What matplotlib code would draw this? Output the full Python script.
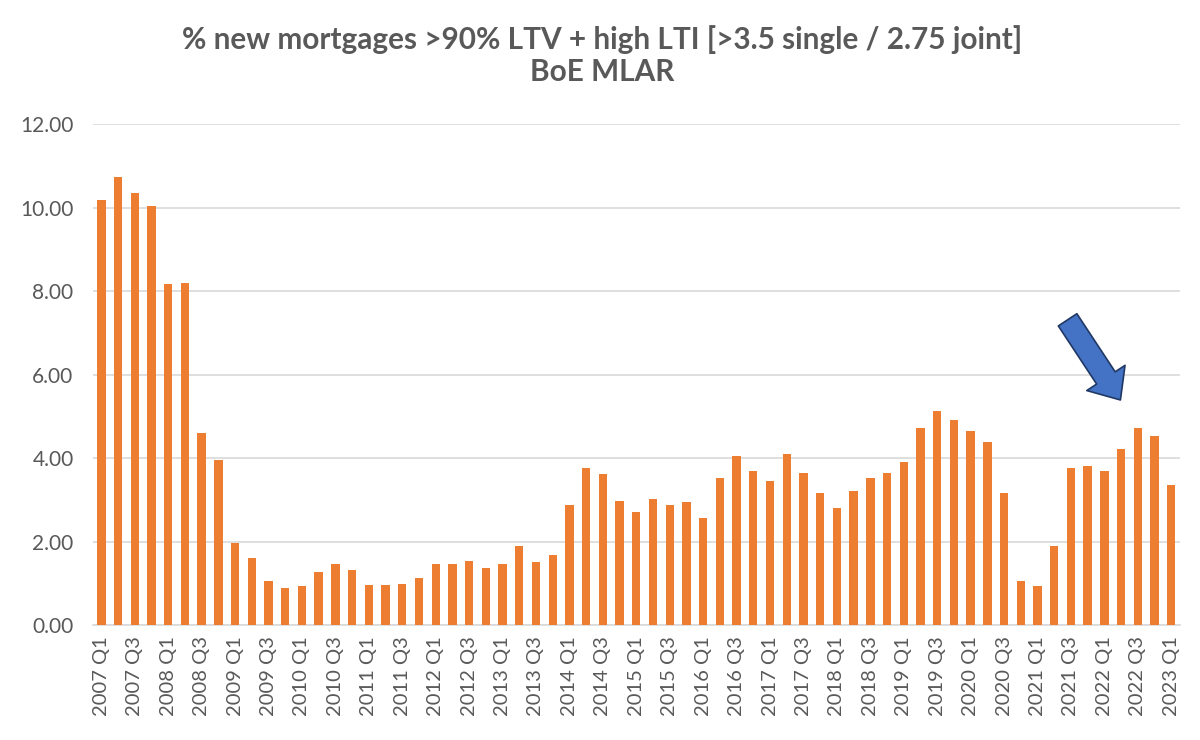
#!/usr/bin/env python3

import matplotlib
matplotlib.use('Agg')
import matplotlib.pyplot as plt
import numpy as np

# quarters 2007 Q1 .. 2023 Q1
years = list(range(2007, 2024))
quarters = [f'{y} Q{q}' for y in years for q in (1, 2, 3, 4)][:65]

values = [10.19, 10.73, 10.34, 10.04, 8.16, 8.19, 4.60, 3.96,
          1.97, 1.61, 1.06, 0.89, 0.93, 1.28, 1.46, 1.32,
          0.96, 0.96, 0.98, 1.13, 1.46, 1.45, 1.53, 1.37,
          1.45, 1.89, 1.52, 1.67, 2.87, 3.75, 3.62, 2.97,
          2.71, 3.03, 2.88, 2.94, 2.57, 3.53, 4.04, 3.68,
          3.45, 4.10, 3.65, 3.15, 2.81, 3.21, 3.51, 3.63,
          3.91, 4.73, 5.13, 4.92, 4.64, 4.38, 3.15, 1.06,
          0.93, 1.89, 3.75, 3.81, 3.70, 4.21, 4.73, 4.53,
          3.36]

yticks = [0, 2, 4, 6, 8, 10, 12]

plt.rcParams['font.family'] = ['Lato', 'DejaVu Sans']
grey = '#595959'

fig = plt.figure(figsize=(12, 7.4), dpi=100)
ax = fig.add_axes([0.0775, 0.1554, 0.9055, 0.677])

x = np.arange(len(values))
ax.bar(x, values, width=0.5, color='#ED7D31', zorder=3)

ax.set_xlim(-0.5, len(values) - 0.5)
ax.set_ylim(0, 12)
ax.set_yticks(yticks)
ax.set_yticklabels([f'{v:.2f}' for v in yticks], fontsize=15, color=grey)
ax.set_xticks(x[::2])
ax.set_xticklabels(quarters[::2], rotation=90, fontsize=14.5, color=grey)
ax.tick_params(length=0)
ax.tick_params(axis='y', pad=14)
ax.tick_params(axis='x', pad=8)

ax.grid(axis='y', color='#D9D9D9', linewidth=1.2, zorder=0)
for s in ('top', 'right', 'left'):
    ax.spines[s].set_visible(False)
ax.spines['bottom'].set_color('#D9D9D9')
ax.spines['bottom'].set_linewidth(1.2)

fig.text(0.502, 0.925, '% new mortgages >90% LTV + high LTI [>3.5 single / 2.75 joint]\nBoE MLAR',
         ha='center', va='center', fontsize=21.4, fontweight='bold', color=grey,
         linespacing=1.18)

# blue pointer arrow
ax.annotate('', xy=(60.96, 5.39), xytext=(57.8, 7.31),
            arrowprops=dict(arrowstyle='simple,head_length=0.95,head_width=1.65,tail_width=0.8',
                            mutation_scale=20, facecolor='#4472C4', edgecolor='#203864',
                            linewidth=1.2, shrinkA=0, shrinkB=0))

fig.savefig('out.png', dpi=100)
